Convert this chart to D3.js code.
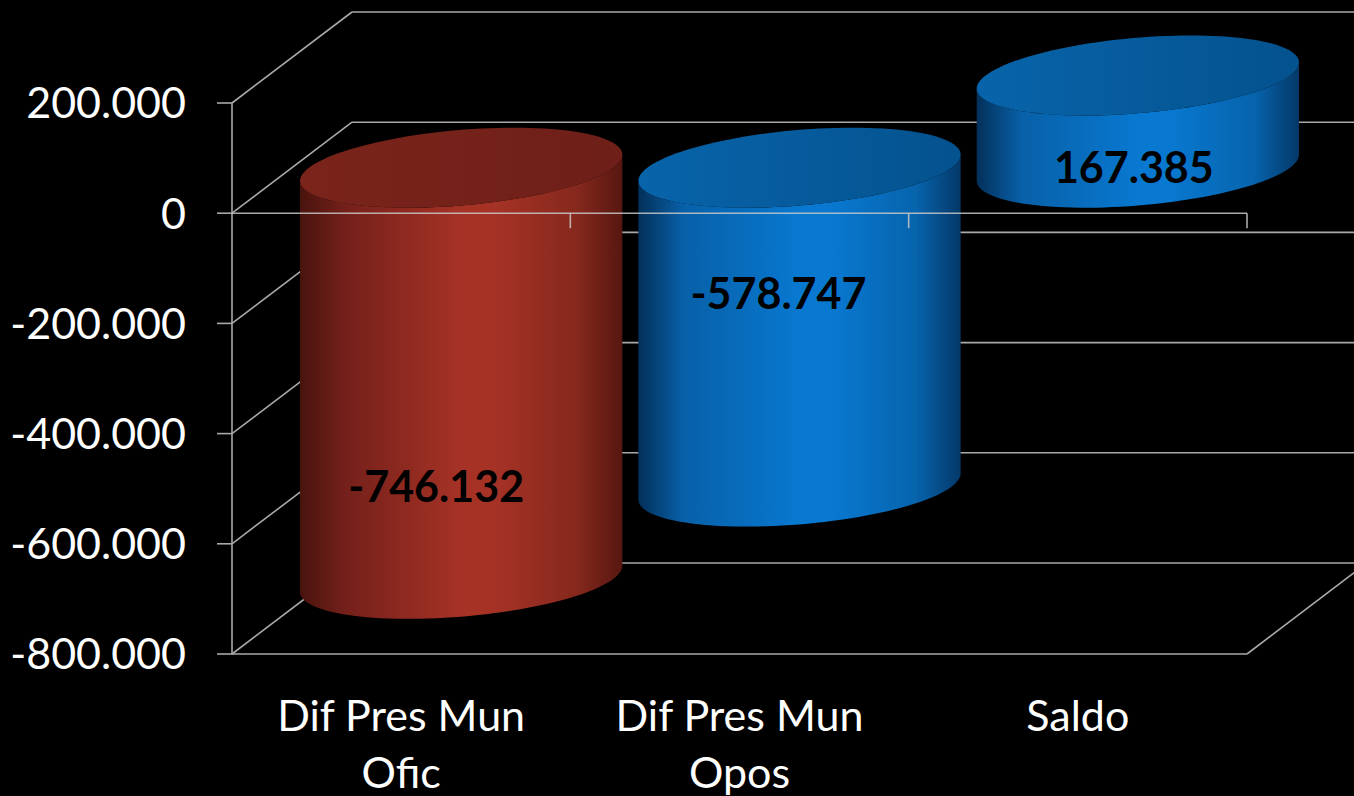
<!DOCTYPE html>
<html>
<head>
<meta charset="utf-8">
<script src="https://cdn.jsdelivr.net/npm/d3@7"></script>
<style>
  html, body { margin: 0; background: #000; overflow: hidden; }
  text { font-family: Lato, "Open Sans", sans-serif; }
</style>
</head>
<body>
<svg id="chart" width="1354" height="796"></svg>
<script>
// data
const categories = ["Dif Pres Mun Ofic", "Dif Pres Mun Opos", "Saldo"]
const categoryLines = [["Dif Pres Mun", "Ofic"], ["Dif Pres Mun", "Opos"], ["Saldo"]]
const values = [-746132, -578747, 167385]
const barColors = ["red", "blue", "blue"]
const yTicks = [200000, 0, -200000, -400000, -600000, -800000]

// layout
const W = 1354, H = 796
const plotLeft = 232, plotRight = 1247, plotTop = 103, plotBottom = 654
const DX = 120, DY = -91 // depth offset of the back wall
const grid = "#a9a9a9"

const fmt = d3.formatLocale({ decimal: ",", thousands: ".", grouping: [3], currency: ["", ""], minus: "-" }).format(",")

const svg = d3.select("#chart")
svg.append("rect").attr("width", W).attr("height", H).attr("fill", "#000")

const x = d3.scaleBand().domain(categories).range([plotLeft, plotRight]).padding(0)
const y = d3.scaleLinear().domain([-800000, 200000]).range([plotBottom, plotTop])

const defs = svg.append("defs")
const palette = {
  red: {
    side: [["0", "#4a130d"], ["0.14", "#74201a"], ["0.5", "#a63226"], ["0.6", "#a63226"], ["0.86", "#86281d"], ["1", "#561710"]],
    top: [["0", "#7a241b"], ["1", "#6e1f18"]]
  },
  blue: {
    side: [["0", "#03305a"], ["0.14", "#0860a8"], ["0.5", "#0878d0"], ["0.6", "#0878d0"], ["0.86", "#0764ad"], ["1", "#043868"]],
    top: [["0", "#0864aa"], ["1", "#04528e"]]
  }
}
Object.entries(palette).forEach(([name, p]) => {
  const gs = defs.append("linearGradient").attr("id", `side-${name}`).attr("x1", 0).attr("x2", 1).attr("y1", 0).attr("y2", 0)
  p.side.forEach(([o, c]) => gs.append("stop").attr("offset", o).attr("stop-color", c))
  const gt = defs.append("linearGradient").attr("id", `top-${name}`).attr("x1", 0).attr("x2", 1).attr("y1", 0).attr("y2", 0)
  p.top.forEach(([o, c]) => gt.append("stop").attr("offset", o).attr("stop-color", c))
})

// back wall gridlines
const back = svg.append("g").attr("stroke", grid).attr("stroke-width", 1.6)
back.selectAll("line.back")
  .data(yTicks)
  .join("line")
  .attr("class", "back")
  .attr("x1", plotLeft + DX).attr("x2", plotRight + DX)
  .attr("y1", (d) => y(d) + DY).attr("y2", (d) => y(d) + DY)

// side wall gridlines
back.selectAll("line.side")
  .data(yTicks)
  .join("line")
  .attr("class", "side")
  .attr("x1", plotLeft).attr("x2", plotLeft + DX)
  .attr("y1", (d) => y(d)).attr("y2", (d) => y(d) + DY)

// floor front edge + right edge
back.append("line").attr("x1", plotLeft).attr("x2", plotRight).attr("y1", y(-800000)).attr("y2", y(-800000))
back.append("line").attr("x1", plotRight).attr("x2", plotRight + DX).attr("y1", y(-800000)).attr("y2", y(-800000) + DY)

// vertical axis
back.append("line").attr("x1", plotLeft).attr("x2", plotLeft).attr("y1", y(200000)).attr("y2", y(-800000))
back.selectAll("line.ytick")
  .data(yTicks)
  .join("line")
  .attr("class", "ytick")
  .attr("x1", plotLeft - 15).attr("x2", plotLeft)
  .attr("y1", (d) => y(d)).attr("y2", (d) => y(d))

svg.append("g")
  .selectAll("text")
  .data(yTicks)
  .join("text")
  .attr("x", 186)
  .attr("y", (d) => y(d))
  .attr("dy", "0.36em")
  .attr("text-anchor", "end")
  .attr("fill", "#fff")
  .attr("font-size", 43)
  .text((d) => fmt(d))

// cylinders
const bw = x.bandwidth()
const depthFrac = 0.44
const R = bw * 0.45
const sh = DX * depthFrac
const hh = -DY * depthFrac
const th0 = Math.atan2(sh, R)

function ellipsePt(cx, cy, t) {
  return [cx + R * Math.cos(t) + sh * Math.sin(t), cy - hh * Math.sin(t)]
}
function arc(cx, cy, t1, t2, n = 60) {
  return d3.range(n + 1).map((i) => ellipsePt(cx, cy, t1 + ((t2 - t1) * i) / n))
}

const bars = svg.append("g")
values.forEach((v, i) => {
  const cx = x(categories[i]) + bw / 2 + DX / 2
  const yTop = y(Math.max(v, 0)) + DY / 2
  const yBot = y(Math.min(v, 0)) + DY / 2
  const frontBot = arc(cx, yBot, th0 + Math.PI, th0 + 2 * Math.PI)
  const frontTop = arc(cx, yTop, th0 + 2 * Math.PI, th0 + Math.PI)
  const side = frontBot.concat(frontTop)
  bars.append("path")
    .attr("d", d3.line()(side) + "Z")
    .attr("fill", `url(#side-${barColors[i]})`)
  bars.append("path")
    .attr("d", d3.line()(arc(cx, yTop, 0, 2 * Math.PI, 120)) + "Z")
    .attr("fill", `url(#top-${barColors[i]})`)
})

// category axis at zero (drawn in front)
const axis = svg.append("g").attr("stroke", "#c8c8c8").attr("stroke-opacity", 0.85).attr("stroke-width", 1.6)
axis.append("line").attr("x1", plotLeft).attr("x2", plotRight).attr("y1", y(0)).attr("y2", y(0))
axis.selectAll("line.xtick")
  .data(categories)
  .join("line")
  .attr("class", "xtick")
  .attr("x1", (d) => x(d) + bw).attr("x2", (d) => x(d) + bw)
  .attr("y1", y(0)).attr("y2", y(0) + 15)

// category labels
svg.append("g")
  .selectAll("text")
  .data(categories)
  .join("text")
  .attr("x", (d) => x(d) + bw / 2)
  .attr("y", 731)
  .attr("text-anchor", "middle")
  .attr("fill", "#fff")
  .attr("font-size", 43)
  .each(function (d, i) {
    d3.select(this)
      .selectAll("tspan")
      .data(categoryLines[i])
      .join("tspan")
      .attr("x", x(d) + bw / 2)
      .attr("dy", (t, j) => (j === 0 ? 0 : 57))
      .text((t) => t)
  })

// data labels (Excel-style placement within each cylinder)
const labelPlace = [[-25, 0.775], [-21, 0.396], [-4, 0]]
svg.append("g")
  .selectAll("text")
  .data(values)
  .join("text")
  .attr("x", (d, i) => x(categories[i]) + bw / 2 + DX / 2 + labelPlace[i][0])
  .attr("y", (d, i) => y(d * labelPlace[i][1]) + DY / 2)
  .attr("dy", "0.36em")
  .attr("text-anchor", "middle")
  .attr("fill", "#000")
  .attr("font-weight", "bold")
  .attr("font-size", 43)
  .text((d) => fmt(d))
</script>
</body>
</html>
